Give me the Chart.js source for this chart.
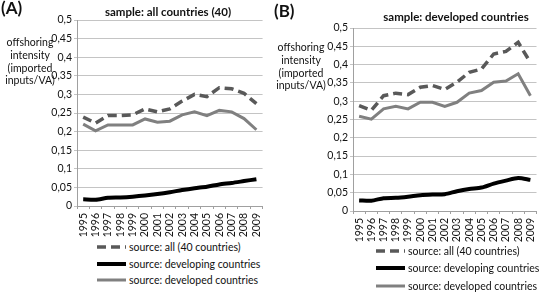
<!DOCTYPE html>
<html>
<head>
<meta charset="utf-8">
<script src="https://cdn.jsdelivr.net/npm/chart.js@4.4.1/dist/chart.umd.min.js"></script>
<style>
  body { margin: 0; background: #fff; font-family: Lato, sans-serif; color: #111; }
  #wrap { position: relative; width: 547px; height: 292px; overflow: hidden; }
  .panel { position: absolute; top: 0; height: 292px; }
  .panel canvas { position: absolute; left: 0; top: 0; }
  .tag { position: absolute; font-weight: bold; font-size: 17px; left: 1px; }
  .ttl { position: absolute; font-weight: bold; font-size: 11.5px; white-space: nowrap; transform: translateX(-50%); }
  .ytitle { position: absolute; font-size: 10.5px; line-height: 12.8px; text-align: center; transform: translateX(-50%); white-space: nowrap; }
  .legend { position: absolute; font-size: 10.5px; }
  .legend div { height: 16.5px; display: flex; align-items: center; white-space: nowrap; }
  #legendB div { height: 17.5px; }
  .legend svg { margin-right: 3px; }
</style>
</head>
<body>
<div id="wrap">
  <div class="panel" style="left:0;width:273px">
    <canvas id="chartA" width="273" height="238"></canvas>
    <div class="tag" style="top:-3px">(A)</div>
    <div class="ttl" style="left:168px;top:5px">sample: all countries (40)</div>
    <div class="ytitle" style="left:30px;top:36px">offshoring<br>intensity<br>(imported<br>inputs/VA)</div>
    <div class="legend" id="legendA" style="left:97px;top:239px"></div>
  </div>
  <div class="panel" style="left:273px;width:274px">
    <canvas id="chartB" width="274" height="243"></canvas>
    <div class="tag" style="top:0">(B)</div>
    <div class="ttl" style="left:183px;top:10px">sample: developed countries</div>
    <div class="ytitle" style="left:28px;top:41px">offshoring<br>intensity<br>(imported<br>inputs/VA)</div>
    <div class="legend" id="legendB" style="left:103px;top:242px"></div>
  </div>
</div>
<script>
const years = ['1995', '1996', '1997', '1998', '1999', '2000', '2001', '2002', '2003', '2004', '2005', '2006', '2007', '2008', '2009'];

// panel A: sample all countries (40)
const allA = [0.239, 0.223, 0.243, 0.243, 0.245, 0.261, 0.253, 0.261, 0.282, 0.300, 0.294, 0.318, 0.315, 0.303, 0.275];
const developingA = [0.018, 0.017, 0.022, 0.023, 0.025, 0.028, 0.032, 0.037, 0.043, 0.048, 0.052, 0.058, 0.062, 0.067, 0.072];
const developedA = [0.220, 0.202, 0.218, 0.218, 0.218, 0.234, 0.225, 0.228, 0.245, 0.253, 0.243, 0.257, 0.253, 0.235, 0.205];

// panel B: sample developed countries
const allB = [0.288, 0.275, 0.315, 0.322, 0.318, 0.338, 0.343, 0.332, 0.352, 0.379, 0.388, 0.429, 0.436, 0.461, 0.406];
const developingB = [0.029, 0.028, 0.035, 0.036, 0.039, 0.043, 0.045, 0.046, 0.054, 0.060, 0.064, 0.075, 0.083, 0.090, 0.085];
const developedB = [0.259, 0.251, 0.279, 0.286, 0.279, 0.297, 0.297, 0.286, 0.297, 0.322, 0.329, 0.352, 0.355, 0.375, 0.315];

const seriesNames = ['source: all (40 countries)', 'source: developing countries', 'source: developed countries'];
const yTickValues = [0, 0.05, 0.1, 0.15, 0.2, 0.25, 0.3, 0.35, 0.4, 0.45, 0.5];

const styles = [
    { color: '#595959', width: 3.5, dash: [9, 5] },
    { color: '#000000', width: 4, dash: [] },
    { color: '#808080', width: 3, dash: [] }
];

const fmt = v => parseFloat(v.toFixed(2)).toString().replace('.', ',');

function makeChart(id, data, yAxisWidth, xAxisHeight, topPad) {
    const ctx = document.getElementById(id).getContext('2d');
    return new Chart(ctx, {
        type: 'line',
        data: {
            labels: years,
            datasets: data.map((values, i) => ({
                label: seriesNames[i],
                data: values,
                borderColor: styles[i].color,
                borderWidth: styles[i].width,
                borderDash: styles[i].dash,
                pointRadius: 0,
                tension: i === 1 ? 0.25 : 0,
                borderCapStyle: 'butt'
            }))
        },
        options: {
            responsive: false,
            animation: false,
            layout: { padding: { top: topPad, right: 0, left: 0, bottom: 0 } },
            plugins: { legend: { display: false }, tooltip: { enabled: false } },
            scales: {
                x: {
                    offset: true,
                    afterFit: scale => { scale.height = xAxisHeight; },
                    grid: { offset: true, drawOnChartArea: false, tickLength: 3, color: '#a0a0a0' },
                    border: { color: '#a0a0a0' },
                    ticks: {
                        minRotation: 90, maxRotation: 90, autoSkip: false, padding: 4,
                        color: '#111', font: { family: 'Lato', size: 10.5 }
                    }
                },
                y: {
                    min: 0, max: 0.5,
                    afterFit: scale => { scale.width = yAxisWidth; },
                    afterBuildTicks: scale => { scale.ticks = yTickValues.map(v => ({ value: v })); },
                    grid: { color: '#c4c4c4', tickLength: 3, lineWidth: 1 },
                    border: { color: '#a0a0a0' },
                    ticks: {
                        padding: 2, color: '#111', font: { family: 'Lato', size: 10.5 },
                        callback: v => fmt(v)
                    }
                }
            }
        }
    });
}

function buildLegend(id) {
    const box = document.getElementById(id);
    seriesNames.forEach((name, i) => {
        const s = styles[i];
        const row = document.createElement('div');
        row.innerHTML = `<svg width="29" height="6"><line x1="0" y1="3" x2="29" y2="3" stroke="${s.color}" stroke-width="${s.width}" stroke-dasharray="${s.dash.join(' ')}"/></svg><span>${name}</span>`;
        box.appendChild(row);
    });
}

makeChart('chartA', [allA, developingA, developedA], 77, 32, 20);
makeChart('chartB', [allB, developingB, developedB], 80, 32, 28);
buildLegend('legendA');
buildLegend('legendB');
</script>
</body>
</html>
